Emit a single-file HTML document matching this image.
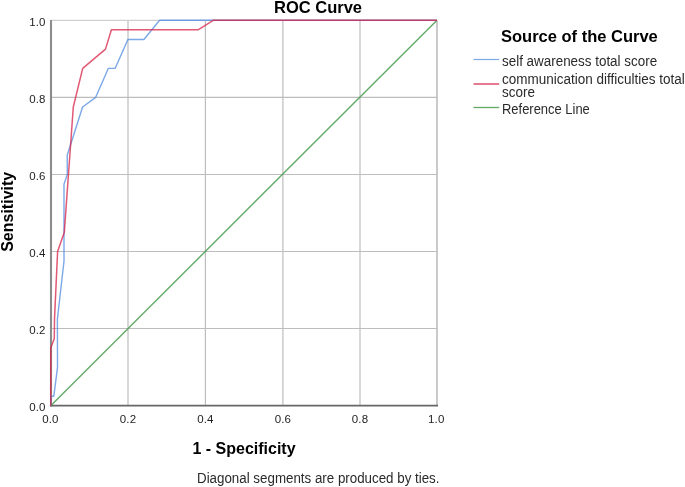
<!DOCTYPE html>
<html><head><meta charset="utf-8"><style>
html,body{margin:0;padding:0;background:#fff;}
body{width:685px;height:487px;overflow:hidden;}
svg{display:block;}
text{font-family:"Liberation Sans",Arial,sans-serif;}
.tick{font-size:11.5px;fill:#1e1e1e;letter-spacing:0.15px;}
.gv{stroke:#bdbdbd;stroke-width:1.2;}
.gh{stroke:#bdbdbd;stroke-width:1.2;}
.ttl{font-size:16.5px;font-weight:bold;fill:#000;}
.axt{font-size:16px;font-weight:bold;fill:#000;}
.leg{font-size:14px;fill:#2a2a2a;}
</style></head><body>
<svg width="685" height="487" viewBox="0 0 685 487">
<rect width="685" height="487" fill="#fff"/>
<text x="274" y="12.8" class="ttl">ROC Curve</text>
<line x1="128.0" y1="20.4" x2="128.0" y2="405.5" class="gv"/><line x1="205.4" y1="20.4" x2="205.4" y2="405.5" class="gv"/><line x1="282.9" y1="20.4" x2="282.9" y2="405.5" class="gv"/><line x1="360.0" y1="20.4" x2="360.0" y2="405.5" class="gv"/><line x1="50.75" y1="328.5" x2="437" y2="328.5" class="gh"/><line x1="50.75" y1="251.5" x2="437" y2="251.5" class="gh"/><line x1="50.75" y1="174.5" x2="437" y2="174.5" class="gh"/><line x1="50.75" y1="97.4" x2="437" y2="97.4" class="gh"/>
<line x1="50.75" y1="20.3" x2="437" y2="20.3" stroke="#d0d0d0" stroke-width="1.2"/>
<line x1="437" y1="20.4" x2="437" y2="405.5" stroke="#bdbdbd" stroke-width="1.6"/>
<line x1="51" y1="20" x2="51" y2="406.5" stroke="#8c8c8c" stroke-width="2.1"/>
<line x1="50" y1="405.7" x2="438" y2="405.7" stroke="#666" stroke-width="1.8"/>
<line x1="50.75" y1="405.7" x2="437" y2="20.2" stroke="rgb(70,155,75)" stroke-opacity="0.85" stroke-width="1.4"/>
<polyline points="50.75,405.70 50.75,396.26 53.80,396.26 57.50,367.33 57.40,319.12 64.00,261.26 64.00,184.12 67.30,174.48 67.20,155.19 82.60,106.98 95.70,97.34 108.30,68.41 115.10,68.41 127.90,39.49 143.90,39.49 159.60,20.20 437.00,20.20" fill="none" stroke="rgb(74,134,222)" stroke-opacity="0.72" stroke-width="1.4" stroke-linejoin="round"/>
<polyline points="50.75,405.70 50.75,348.04 54.30,338.40 54.50,319.12 57.60,251.62 64.30,232.33 73.30,106.98 82.70,68.41 105.50,49.13 111.40,29.84 198.10,29.84 213.60,20.20 437.00,20.20" fill="none" stroke="rgb(215,33,71)" stroke-opacity="0.75" stroke-width="1.5" stroke-linejoin="round"/>
<text x="45.6" y="411.2" class="tick" text-anchor="end">0.0</text><text x="45.6" y="334.2" class="tick" text-anchor="end">0.2</text><text x="45.6" y="257.2" class="tick" text-anchor="end">0.4</text><text x="45.6" y="180.2" class="tick" text-anchor="end">0.6</text><text x="45.6" y="103.2" class="tick" text-anchor="end">0.8</text><text x="45.6" y="26.4" class="tick" text-anchor="end">1.0</text>
<text x="50.4" y="422.7" class="tick" text-anchor="middle">0.0</text><text x="128.0" y="422.7" class="tick" text-anchor="middle">0.2</text><text x="205.4" y="422.7" class="tick" text-anchor="middle">0.4</text><text x="282.9" y="422.7" class="tick" text-anchor="middle">0.6</text><text x="360.0" y="422.7" class="tick" text-anchor="middle">0.8</text><text x="436.3" y="422.7" class="tick" text-anchor="middle">1.0</text>
<text x="13.2" y="211.8" class="axt" text-anchor="middle" transform="rotate(-90 13.2 211.8)">Sensitivity</text>
<text x="244" y="453.9" class="axt" text-anchor="middle">1 - Specificity</text>
<text x="197" y="483" class="leg" textLength="242.5" lengthAdjust="spacingAndGlyphs">Diagonal segments are produced by ties.</text>
<text x="501" y="41.5" class="ttl">Source of the Curve</text>
<line x1="473.5" y1="59.5" x2="499.2" y2="59.5" stroke="rgb(74,134,222)" stroke-opacity="0.72" stroke-width="1.2"/>
<text x="502" y="66" class="leg" textLength="155.1" lengthAdjust="spacingAndGlyphs">self awareness total score</text>
<line x1="473.5" y1="84" x2="499.2" y2="84" stroke="rgb(215,33,71)" stroke-opacity="0.6" stroke-width="2"/>
<text x="502" y="83.8" class="leg" textLength="182.7" lengthAdjust="spacingAndGlyphs">communication difficulties total</text>
<text x="502" y="96.8" class="leg" textLength="32.9" lengthAdjust="spacingAndGlyphs">score</text>
<line x1="473.5" y1="107.5" x2="499.2" y2="107.5" stroke="rgb(70,155,75)" stroke-opacity="0.85" stroke-width="1.3"/>
<text x="502" y="114" class="leg" textLength="87.8" lengthAdjust="spacingAndGlyphs">Reference Line</text>
</svg>
</body></html>
